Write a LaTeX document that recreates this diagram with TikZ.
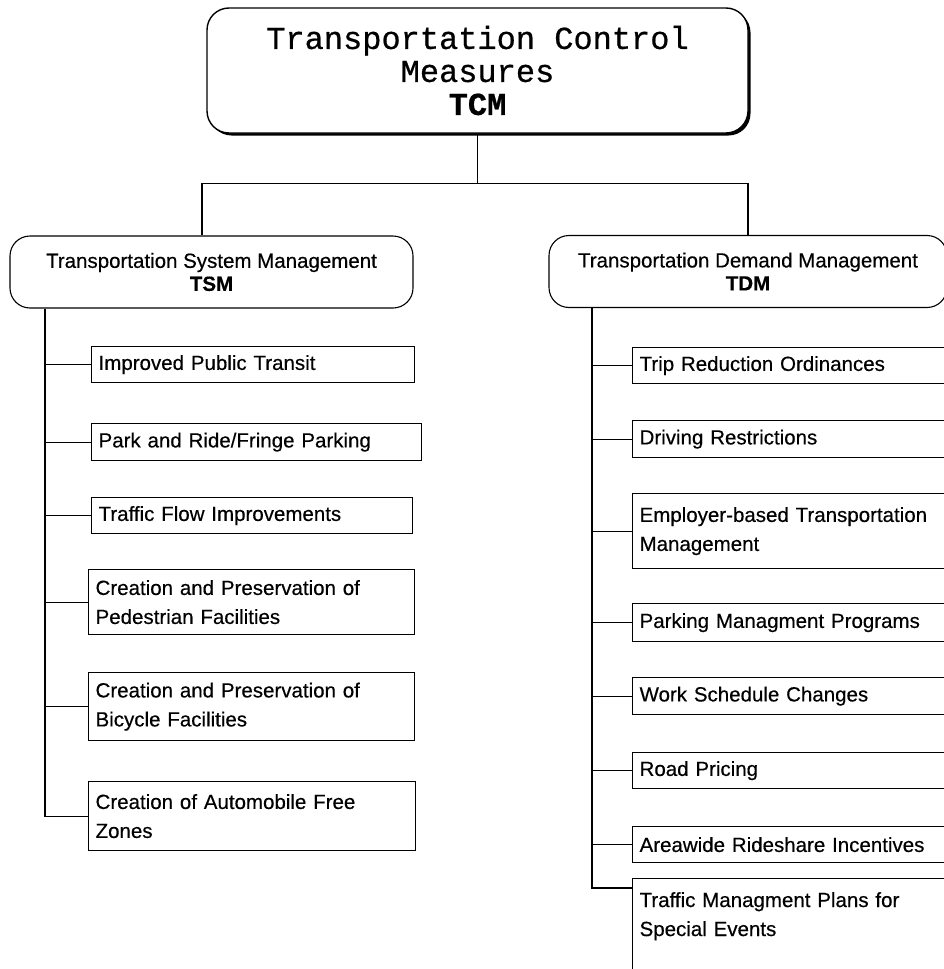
\documentclass[tikz,border=0pt]{standalone}
\usepackage{fontspec}
\setmainfont[FakeBold=0.4]{Liberation Sans}
\newfontfamily\cour[FakeBold=0.6]{Liberation Mono}
\usetikzlibrary{shadows}
\begin{document}
\begin{tikzpicture}[x=1pt,y=-1pt,
  every node/.style={inner sep=0pt},
  topbox/.style={draw, line width=1.4pt, rounded corners=22pt, fill=white,
    drop shadow={fill=black, opacity=1, shadow xshift=2.5pt, shadow yshift=-2.5pt},
    align=center, font=\cour\fontsize{32}{33}\selectfont},
  midbox/.style={draw, line width=1.1pt, rounded corners=20pt, align=center,
    font=\fontsize{20.5}{23}\selectfont},
  leaf/.style={draw, line width=1.2pt, anchor=north west, align=left, inner xsep=7pt,
    font=\fontsize{20.5}{29}\selectfont},
  conn/.style={line width=1.1pt}
]
\useasboundingbox (0,0) rectangle (943,969);

% root
\node[topbox, minimum width=541pt, minimum height=125pt] (tcm) at (477.5,70.5)
  {Transportation Control\\Measures\\\textbf{TCM}};

% second level
\node[midbox, minimum width=403pt, minimum height=72pt] (tsm) at (211.5,272)
  {Transportation System Management\\\textbf{TSM}};
\node[midbox, minimum width=398pt, minimum height=72pt] (tdm) at (748,271.5)
  {Transportation Demand Management\\\textbf{TDM}};

% TSM leaves
\node[leaf, minimum width=323pt, text width=309pt, minimum height=36pt] (l1) at (91,346) {Improved Public Transit};
\node[leaf, minimum width=330pt, text width=316pt, minimum height=37pt] (l2) at (91,423) {Park and Ride/Fringe Parking};
\node[leaf, minimum width=321pt, text width=307pt, minimum height=36pt] (l3) at (91,497) {Traffic Flow Improvements};
\node[leaf, minimum width=326pt, text width=312pt, minimum height=65pt] (l4) at (88,569) {Creation and Preservation of\\Pedestrian Facilities};
\node[leaf, minimum width=326pt, text width=312pt, minimum height=68pt] (l5) at (88,672) {Creation and Preservation of\\Bicycle Facilities};
\node[leaf, minimum width=327pt, text width=313pt, minimum height=69pt] (l6) at (88,781) {Creation of Automobile Free\\Zones};

% TDM leaves
\node[leaf, minimum width=330pt, text width=316pt, minimum height=36pt] (r1) at (632,347) {Trip Reduction Ordinances};
\node[leaf, minimum width=330pt, text width=316pt, minimum height=37pt] (r2) at (632,420) {Driving Restrictions};
\node[leaf, minimum width=330pt, text width=316pt, minimum height=75pt] (r3) at (632,493) {Employer-based Transportation\\Management};
\node[leaf, minimum width=330pt, text width=316pt, minimum height=38pt] (r4) at (632,603) {Parking Managment Programs};
\node[leaf, minimum width=330pt, text width=316pt, minimum height=37pt] (r5) at (632,677) {Work Schedule Changes};
\node[leaf, minimum width=330pt, text width=316pt, minimum height=36pt] (r6) at (632,752) {Road Pricing};
\node[leaf, minimum width=330pt, text width=316pt, minimum height=36pt] (r7) at (632,826) {Areawide Rideshare Incentives};
\node[leaf, minimum width=330pt, text width=316pt, minimum height=100pt] (r8) at (632,878) {Traffic Managment Plans for\\Special Events\\~};

% connectors
\draw[conn] (tcm.south) -- ++(0,50) coordinate (bar);
\draw[conn] (bar) -| ([xshift=-9.5pt]tsm.north);
\draw[conn] (bar) -| (tdm.north);

\coordinate (lt) at (45,0);
\draw[conn] (lt |- tsm.south) |- (l6.west);
\foreach \i in {1,...,5} \draw[conn] (lt |- l\i.west) -- (l\i.west);

\coordinate (rt) at (592,0);
\draw[conn] (rt |- tdm.south) |- ([yshift=-10pt]r8.north west);
\foreach \i in {1,...,7} \draw[conn] (rt |- r\i.west) -- (r\i.west);
\end{tikzpicture}
\end{document}
